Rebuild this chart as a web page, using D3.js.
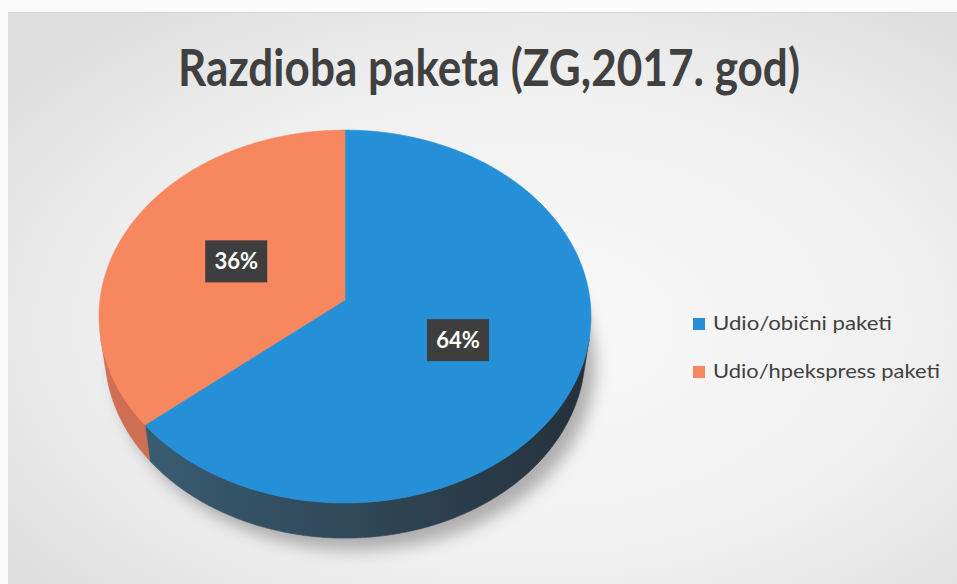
<!DOCTYPE html>
<html><head><meta charset="utf-8">
<script src="https://cdn.jsdelivr.net/npm/d3@7"></script>
<style>body{margin:0;background:#fff;overflow:hidden}</style>
</head><body><svg id="c" width="957" height="584"></svg>
<script>
const title = "Razdioba paketa (ZG,2017. god)";
const categories = ["Udio/obični paketi", "Udio/hpekspress paketi"];
const values = [64, 36];
const labels = ["64%", "36%"];

const topColors = ["#2590d8", "#f7875e"];
const wallLeft = ["#3b6077", "#d06f54"];
const wallRight = ["#25313b", "#b95d46"];

const svg = d3.select("#c");
const defs = svg.append("defs");

// background
const bg = defs.append("radialGradient").attr("id", "bg").attr("cx", "55%").attr("cy", "55%").attr("r", "70%");
bg.append("stop").attr("offset", "0%").attr("stop-color", "#f9f9f9");
bg.append("stop").attr("offset", "60%").attr("stop-color", "#f0f0f0");
bg.append("stop").attr("offset", "100%").attr("stop-color", "#dedede");
svg.append("rect").attr("x", 0).attr("y", 0).attr("width", 957).attr("height", 584).attr("fill", "#fbfbfb");
svg.append("rect").attr("x", 8).attr("y", 12).attr("width", 949).attr("height", 572).attr("fill", "url(#bg)");
svg.append("line").attr("x1", 8).attr("x2", 957).attr("y1", 12.5).attr("y2", 12.5).attr("stroke", "#d4d4d4");

// perspective projection of the pie
const cx = 345, cy = 300, f = 1813, D = 7.4, alpha = Math.asin(0.755), thick = 0.235;
const sa = Math.sin(alpha), ca = Math.cos(alpha);
function proj(theta, r, h) {
  const X = r * Math.sin(theta), Z = -r * Math.cos(theta);
  const yc = Z * sa - h * ca, zc = D - Z * ca - h * sa;
  return [cx + f * X / zc, cy + f * yc / zc];
}
function arcPts(t0, t1, r, h) {
  const n = Math.max(2, Math.ceil(Math.abs(t1 - t0) / (Math.PI / 360)));
  return d3.range(n + 1).map(i => proj(t0 + (t1 - t0) * i / n, r, h));
}
const line = d3.line();

const arcs = d3.pie().sort(null).value(d => d)(values);

// visible wall range
const zt = 1 / (D * ca);
const tv1 = Math.acos(-zt), tv2 = 2 * Math.PI - Math.acos(-zt);

// shadow
const sh = defs.append("filter").attr("id", "sh").attr("x", "-20%").attr("y", "-20%").attr("width", "140%").attr("height", "140%");
sh.append("feGaussianBlur").attr("stdDeviation", 8);
svg.append("path")
  .attr("d", line(arcPts(0, 2 * Math.PI, 1, -thick)) + "Z")
  .attr("transform", "translate(10,12)")
  .attr("fill", "#808080").attr("opacity", 0.6).attr("filter", "url(#sh)");

// walls
arcs.forEach((a, i) => {
  const g = defs.append("linearGradient").attr("id", "w" + i).attr("gradientUnits", "userSpaceOnUse")
    .attr("x1", 100).attr("x2", 590).attr("y1", 0).attr("y2", 0);
  g.append("stop").attr("offset", "0%").attr("stop-color", wallLeft[i]);
  g.append("stop").attr("offset", "100%").attr("stop-color", wallRight[i]);
  const t0 = Math.max(a.startAngle, tv1), t1 = Math.min(a.endAngle, tv2);
  if (t0 < t1) {
    const pts = arcPts(t0, t1, 1, 0).concat(arcPts(t1, t0, 1, -thick));
    svg.append("path").attr("d", line(pts) + "Z").attr("fill", "url(#w" + i + ")")
      .attr("stroke", "url(#w" + i + ")").attr("stroke-width", 0.6);
  }
});

// tops
arcs.forEach((a, i) => {
  const pts = [proj(0, 0, 0)].concat(arcPts(a.startAngle, a.endAngle, 1, 0));
  svg.append("path").attr("d", line(pts) + "Z").attr("fill", topColors[i])
    .attr("stroke", topColors[i]).attr("stroke-width", 0.6);
});

// data labels
arcs.forEach((a, i) => {
  const m = (a.startAngle + a.endAngle) / 2;
  const [x, y] = proj(m, 0.5, 0);
  svg.append("rect").attr("x", x - 31).attr("y", y - 21).attr("width", 62).attr("height", 42).attr("fill", "#3e3e3e");
  svg.append("text").attr("x", x).attr("y", y + 8).attr("text-anchor", "middle")
    .attr("font-family", "Lato, 'Open Sans', sans-serif").attr("font-weight", 700).attr("font-size", 22)
    .attr("fill", "#ffffff").text(labels[i]);
});

// title
svg.append("text").attr("x", 489).attr("y", 86).attr("text-anchor", "middle")
  .attr("font-family", "Lato, 'Open Sans', sans-serif").attr("font-weight", 700).attr("font-size", 52)
  .attr("fill", "#404040").attr("textLength", 622).attr("lengthAdjust", "spacingAndGlyphs").text(title);

// legend
const legY = [330, 378];
const legW = [179, 227];
categories.forEach((c, i) => {
  svg.append("rect").attr("x", 693).attr("y", legY[i] - 12).attr("width", 12).attr("height", 12).attr("fill", topColors[i]);
  svg.append("text").attr("x", 713).attr("y", legY[i]).attr("font-family", "Lato, 'Open Sans', sans-serif")
    .attr("font-size", 20).attr("fill", "#404040").attr("textLength", legW[i]).attr("lengthAdjust", "spacingAndGlyphs").text(c);
});
</script></body></html>
